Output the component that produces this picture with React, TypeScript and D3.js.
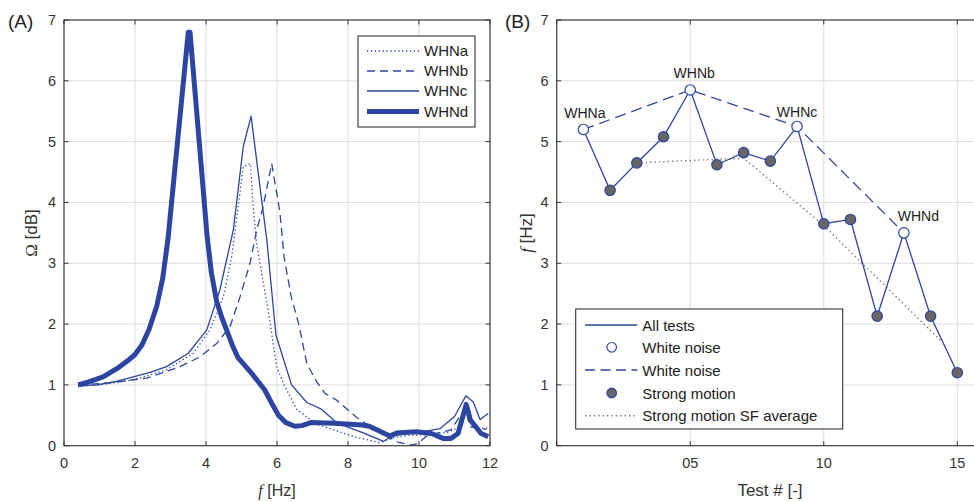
import { useEffect } from "react";
import * as d3 from "d3";

// ---- panel A : transfer functions, [f Hz, Omega dB]
const whna: [number, number][] = [
  [0.4, 0.98], [1.0, 1.0], [1.95, 1.08], [2.89, 1.25], [3.64, 1.52], [4.11, 1.9],
  [4.49, 2.45], [4.72, 3.1], [4.86, 3.71], [5.05, 4.59], [5.25, 4.64], [5.33, 3.93],
  [5.43, 3.3], [5.78, 2.12], [5.99, 1.3], [6.2, 1.0], [6.55, 0.6], [7.1, 0.36],
  [7.6, 0.26], [8.15, 0.15], [8.9, 0.05], [9.28, 0.13], [9.7, 0.17], [10.2, 0.18],
  [10.8, 0.22], [11.08, 0.29], [11.32, 0.58], [11.53, 0.29], [11.95, 0.29],
];
const whnb: [number, number][] = [
  [0.4, 1.0], [1.2, 1.03], [2.33, 1.11], [3.27, 1.3], [3.83, 1.46], [4.3, 1.68],
  [4.68, 1.96], [4.96, 2.45], [5.24, 3.0], [5.43, 3.55], [5.61, 3.93], [5.85, 4.64],
  [6.08, 3.85], [6.2, 3.1], [6.4, 2.45], [6.62, 1.98], [6.84, 1.35], [7.12, 1.05],
  [7.35, 0.86], [7.68, 0.75], [8.25, 0.46], [8.8, 0.25], [9.4, 0.06], [9.75, 0.01],
  [9.95, 0.03], [10.2, 0.15], [10.6, 0.22], [10.9, 0.26], [11.15, 0.48], [11.3, 0.62],
  [11.44, 0.31], [11.9, 0.27],
];
const whnc: [number, number][] = [
  [0.4, 0.98], [0.92, 1.0], [1.5, 1.06], [1.95, 1.13], [2.4, 1.2], [2.89, 1.3],
  [3.5, 1.52], [4.02, 1.9], [4.39, 2.56], [4.77, 3.55], [5.05, 4.92], [5.27, 5.42],
  [5.52, 4.26], [5.71, 3.4], [5.97, 1.82], [6.41, 1.0], [6.84, 0.71], [7.25, 0.6],
  [7.7, 0.37], [8.43, 0.21], [9.0, 0.07], [9.2, 0.15], [9.6, 0.2], [10.0, 0.22],
  [10.59, 0.28], [11.0, 0.48], [11.32, 0.82], [11.53, 0.72], [11.72, 0.43], [11.95, 0.53],
];
const whnd: [number, number][] = [
  [0.4, 1.0], [0.7, 1.05], [1.1, 1.13], [1.5, 1.27], [1.8, 1.4], [2.0, 1.5],
  [2.2, 1.66], [2.4, 1.92], [2.61, 2.29], [2.78, 2.75], [2.93, 3.4], [3.5, 6.8],
  [3.55, 6.8], [4.03, 3.45], [4.15, 2.85], [4.3, 2.37], [4.45, 2.1], [4.6, 1.87],
  [4.75, 1.64], [4.9, 1.45], [5.3, 1.18], [5.65, 0.92], [5.85, 0.7], [6.04, 0.5],
  [6.25, 0.38], [6.5, 0.32], [6.7, 0.33], [6.95, 0.38], [7.6, 0.37], [8.4, 0.34],
  [8.6, 0.32], [9.18, 0.16], [9.37, 0.21], [9.93, 0.23], [10.35, 0.2], [10.68, 0.12],
  [10.9, 0.12], [11.1, 0.2], [11.33, 0.68], [11.45, 0.42], [11.75, 0.2], [11.95, 0.15],
];
const seriesNames = ["WHNa", "WHNb", "WHNc", "WHNd"];
const xTicksA = [0, 2, 4, 6, 8, 10, 12];
const yTicks = [0, 1, 2, 3, 4, 5, 6, 7];

// ---- panel B : frequency per test
const testNo = [1, 2, 3, 4, 5, 6, 7, 8, 9, 10, 11, 12, 13, 14, 15];
const testFreq = [5.2, 4.2, 4.65, 5.08, 5.85, 4.62, 4.82, 4.68, 5.25, 3.65, 3.72, 2.13, 3.5, 2.13, 1.2];
const whiteNoiseTests = [1, 5, 9, 13];
const whiteNoiseLabels = ["WHNa", "WHNb", "WHNc", "WHNd"];
const sfAverage: [number, number][] = [[3, 4.65], [7, 4.73], [10, 3.62], [14.4, 1.72]];
const xTicksB = [5, 10, 15];
const xTickLabelsB = ["05", "10", "15"];

const W = 974;
const H = 502;
const blue = "#2b45a0";
const font = "'Liberation Sans', Arial, Helvetica, sans-serif";
const tickLen = 4.5;

const xA = d3.scaleLinear().domain([0, 12]).range([64, 490]);
const yA = d3.scaleLinear().domain([0, 7]).range([445.7, 20]);
const xB = d3.scaleLinear().domain([0, 16]).range([556.7, 984]);
const yB = d3.scaleLinear().domain([0, 7]).range([445.7, 20]);

const styleA = [
  { width: 1.3, dash: "1.3,2.6" },
  { width: 1.3, dash: "8,5" },
  { width: 1.3, dash: "" },
  { width: 5, dash: "" },
];

function Frame({ x, y, xt, yt }: { x: d3.ScaleLinear<number, number>; y: d3.ScaleLinear<number, number>; xt: number[]; yt: number[] }) {
  const [x0, x1] = x.range();
  const [y0, y1] = y.range();
  return (
    <g>
      <rect x={x0} y={y1} width={x1 - x0} height={y0 - y1} fill="white" />
      {xt.map((t) => (
        <line key={"gx" + t} x1={x(t)} x2={x(t)} y1={y0} y2={y1} stroke="#dcdcdc" strokeWidth={1} />
      ))}
      {yt.map((t) => (
        <line key={"gy" + t} x1={x0} x2={x1} y1={y(t)} y2={y(t)} stroke="#dcdcdc" strokeWidth={1} />
      ))}
    </g>
  );
}

function Box({ x, y, xt, yt, xl, yl }: { x: d3.ScaleLinear<number, number>; y: d3.ScaleLinear<number, number>; xt: number[]; yt: number[]; xl: string[]; yl: string[] }) {
  const [x0, x1] = x.range();
  const [y0, y1] = y.range();
  return (
    <g fontFamily={font} fontSize={14.5} fill="#333">
      <rect x={x0} y={y1} width={x1 - x0} height={y0 - y1} fill="none" stroke="#333" strokeWidth={1.1} />
      {xt.map((t, i) => (
        <g key={"tx" + t}>
          <line x1={x(t)} x2={x(t)} y1={y0} y2={y0 - tickLen} stroke="#333" />
          <line x1={x(t)} x2={x(t)} y1={y1} y2={y1 + tickLen} stroke="#333" />
          <text x={x(t)} y={y0 + 22} textAnchor="middle">{xl[i]}</text>
        </g>
      ))}
      {yt.map((t, i) => (
        <g key={"ty" + t}>
          <line x1={x0} x2={x0 + tickLen} y1={y(t)} y2={y(t)} stroke="#333" />
          <line x1={x1} x2={x1 - tickLen} y1={y(t)} y2={y(t)} stroke="#333" />
          <text x={x0 - 8} y={y(t) + 5} textAnchor="end">{yl[i]}</text>
        </g>
      ))}
    </g>
  );
}

export default function App() {
  useEffect(() => {
    document.body.style.margin = "0";
  }, []);

  const lineA = d3.line<[number, number]>().x((d) => xA(d[0])).y((d) => yA(d[1]));
  const lineB = d3.line<[number, number]>().x((d) => xB(d[0])).y((d) => yB(d[1]));
  const allTests: [number, number][] = testNo.map((t, i) => [t, testFreq[i]]);
  const wn: [number, number][] = whiteNoiseTests.map((t) => [t, testFreq[t - 1]]);
  const strong = allTests.filter((d) => !whiteNoiseTests.includes(d[0]));
  const seriesA = [whna, whnb, whnc, whnd];

  const legA = { x: 358, y: 36, w: 117, h: 91, rows: [51, 71, 91, 111.5] };
  const legB = { x: 575.7, y: 309, w: 267, h: 120, rows: [325, 347.3, 370, 393, 415.7] };
  const legBLabels = ["All tests", "White noise", "White noise", "Strong motion", "Strong motion SF average"];
  // label offsets from the white-noise markers
  const annot = [
    { dx: 1.5, dy: -11.5 },
    { dx: 4, dy: -12 },
    { dx: 0, dy: -9 },
    { dx: 14.5, dy: -12 },
  ];

  return (
    <svg width={W} height={H} style={{ display: "block", background: "white" }}>
      {/* ---------- panel A ---------- */}
      <Frame x={xA} y={yA} xt={xTicksA} yt={yTicks} />
      <g fill="none" stroke={blue} strokeLinejoin="round">
        {seriesA.map((s, i) => (
          <path key={i} d={lineA(s) ?? ""} strokeWidth={styleA[i].width} strokeDasharray={styleA[i].dash} />
        ))}
      </g>
      <Box x={xA} y={yA} xt={xTicksA} yt={yTicks} xl={xTicksA.map(String)} yl={yTicks.map(String)} />
      <g fontFamily={font}>
        <rect x={legA.x} y={legA.y} width={legA.w} height={legA.h} fill="white" stroke="#333" strokeWidth={1.1} />
        {seriesNames.map((n, i) => (
          <g key={n}>
            <line x1={legA.x + 9} x2={legA.x + 61} y1={legA.rows[i]} y2={legA.rows[i]} stroke={blue}
              strokeWidth={styleA[i].width} strokeDasharray={styleA[i].dash} />
            <text x={legA.x + 66} y={legA.rows[i] + 5} fontSize={15} fill="#222">{n}</text>
          </g>
        ))}
        <text x={8} y={28} fontSize={19} fill="#222">(A)</text>
        <text transform="translate(37,233) rotate(-90)" textAnchor="middle" fontSize={17} fill="#333">
          <tspan fontFamily="'Liberation Serif', 'DejaVu Serif', serif">Ω</tspan> [dB]
        </text>
        <text x={277} y={496} textAnchor="middle" fontSize={16} fill="#333">
          <tspan fontStyle="italic" fontFamily="'Liberation Serif', serif">f</tspan> [Hz]
        </text>
      </g>

      {/* ---------- panel B ---------- */}
      <Frame x={xB} y={yB} xt={[0, ...xTicksB]} yt={yTicks} />
      <path d={lineB(sfAverage) ?? ""} fill="none" stroke="#777" strokeWidth={1.4} strokeDasharray="1.4,3" />
      <path d={lineB(wn) ?? ""} fill="none" stroke={blue} strokeWidth={1.3} strokeDasharray="11,6" />
      <path d={lineB(allTests) ?? ""} fill="none" stroke={blue} strokeWidth={1.3} />
      {strong.map((d) => (
        <circle key={"s" + d[0]} cx={xB(d[0])} cy={yB(d[1])} r={5.2} fill="#666" stroke={blue} strokeWidth={1.2} />
      ))}
      {wn.map((d) => (
        <circle key={"w" + d[0]} cx={xB(d[0])} cy={yB(d[1])} r={5.2} fill="white" stroke={blue} strokeWidth={1.2} />
      ))}
      <g fontFamily={font} fontSize={14} fill="#222" textAnchor="middle">
        {wn.map((d, i) => (
          <text key={"a" + i} x={xB(d[0]) + annot[i].dx} y={yB(d[1]) + annot[i].dy}>{whiteNoiseLabels[i]}</text>
        ))}
      </g>
      <Box x={xB} y={yB} xt={[0, ...xTicksB]} yt={yTicks} xl={["", ...xTickLabelsB]} yl={yTicks.map(String)} />
      <g fontFamily={font}>
        <rect x={legB.x} y={legB.y} width={legB.w} height={legB.h} fill="white" stroke="#333" strokeWidth={1.1} />
        <line x1={585} x2={637.3} y1={legB.rows[0]} y2={legB.rows[0]} stroke={blue} strokeWidth={1.3} />
        <circle cx={611.7} cy={legB.rows[1]} r={4.8} fill="white" stroke={blue} strokeWidth={1.2} />
        <line x1={585} x2={637.3} y1={legB.rows[2]} y2={legB.rows[2]} stroke={blue} strokeWidth={1.3} strokeDasharray="10,5.5" />
        <circle cx={611.7} cy={legB.rows[3]} r={4.8} fill="#666" stroke={blue} strokeWidth={1.2} />
        <line x1={585} x2={637.3} y1={legB.rows[4]} y2={legB.rows[4]} stroke="#777" strokeWidth={1.4} strokeDasharray="1.4,3" />
        {legBLabels.map((l, i) => (
          <text key={"lb" + i} x={642.3} y={legB.rows[i] + 5.5} fontSize={15} fill="#222">{l}</text>
        ))}
        <text x={505} y={28} fontSize={19} fill="#222">(B)</text>
        <text transform="translate(532,233) rotate(-90)" textAnchor="middle" fontSize={17} fill="#333">
          <tspan fontStyle="italic" fontFamily="'Liberation Serif', serif">f</tspan> [Hz]
        </text>
        <text x={770} y={496} textAnchor="middle" fontSize={17} fill="#333">Test # [-]</text>
      </g>
    </svg>
  );
}
